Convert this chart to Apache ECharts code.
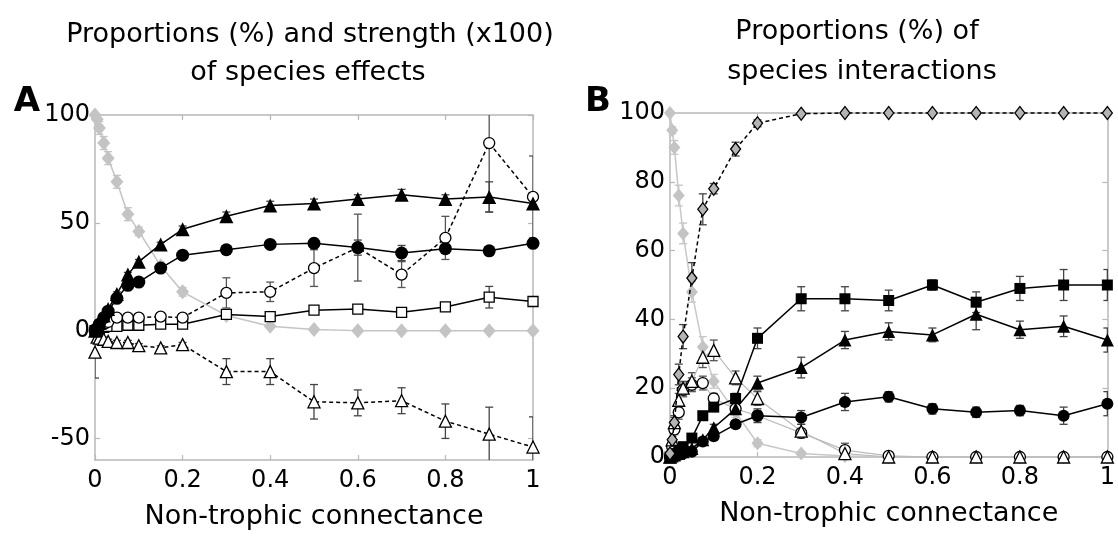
<!DOCTYPE html>
<html>
<head>
<meta charset="utf-8">
<script src="https://cdn.jsdelivr.net/npm/echarts@6/dist/echarts.min.js"></script>
<style>html,body{margin:0;padding:0;background:#fff;}#c{width:1118px;height:538px;}</style>
</head>
<body>
<div id="c"></div>
<script>
// ---------- data ----------
const X = [0, 0.005, 0.01, 0.02, 0.03, 0.05, 0.075, 0.1, 0.15, 0.2, 0.3, 0.4, 0.5, 0.6, 0.7, 0.8, 0.9, 1];
const xTicks = [0, 0.2, 0.4, 0.6, 0.8, 1];
const aYTicks = [-50, 0, 50, 100];
const bYTicks = [0, 20, 40, 60, 80, 100];

// Panel A: proportions and strength of species effects
const aGray        = [100, 98, 94, 87, 80, 69, 54, 46, 30, 18, 7, 2, 0.5, 0, 0, 0, 0, 0];
const aGrayErr     = [1, 2, 3, 3, 3, 3, 3, 2, 2, 2, 1, 1, 0, 0, 0, 0, 0, 0];
const aFillTri     = [0, 2, 4, 7, 10, 17, 26, 32, 40, 47, 53, 58, 59, 61, 63, 61, 62, 59];
const aFillTriErr  = [0, 0, 0, 0, 0, 1, 1, 1, 1, 1.5, 2, 2, 2, 2, 2.5, 2, 7, 2];
const aFillCirc    = [0, 1, 3, 6, 9, 15, 21, 22.5, 29, 35, 37.5, 40, 40.5, 38.5, 36, 38, 37, 40.5];
const aFillCircErr = [0, 0, 0, 0, 0, 1, 1, 1, 1.5, 1.5, 1.5, 1.5, 2, 3.5, 3.5, 2, 1.5, 1.5];
const aOpenCirc    = [0, 1, 2, 3, 4, 6, 6, 6, 6.5, 6, 17.5, 18, 29, 38.5, 26, 43, 87, 62];
const aOpenCircErr = [0, 0, 0, 0, 0, 1, 1, 1, 1, 1, 7, 4.5, 8.5, 15.5, 6, 10, 32, 19];
const aOpenSq      = [0, 0.5, 1, 1.5, 2, 2, 2.5, 2.5, 3, 3, 7.5, 6.5, 9.5, 10, 8.5, 11, 15.5, 13.5];
const aOpenSqErr   = [0, 0, 0, 0, 0, 0.5, 0.5, 0.5, 0.5, 0.5, 1, 1, 1, 1, 1, 1, 5, 1];
const aOpenTri     = [-10, -3, -3.5, -4, -5, -5.5, -5.5, -7, -8, -6.5, -19, -19, -33, -33.5, -32.5, -42, -48, -54];
const aOpenTriErr  = [12, 1, 1, 1, 1, 1, 1, 1, 1, 1, 6, 6, 8, 6, 6, 8, 12.5, 14];

// Panel B: proportions of species interactions
const bGray        = [100, 95, 90, 76, 65, 48, 32, 22, 13, 4, 1, 0.3, 0, 0, 0, 0, 0, 0];
const bGrayErr     = [0, 1, 2, 3, 3, 3, 3, 2, 1.5, 1, 0.5, 0, 0, 0, 0, 0, 0, 0];
const bDiam        = [1, 5, 10, 24, 35, 52, 72, 78, 89.5, 97, 99.8, 100, 100, 100, 100, 100, 100, 100];
const bDiamErr     = [0.5, 1, 2, 3, 3.5, 4.5, 4.5, 1.5, 2, 1, 0.2, 0, 0, 0, 0, 0, 0, 0];
const bSq          = [0, 0.5, 1, 2, 3, 5.5, 12, 14.5, 17, 34.5, 46, 46, 45.5, 50, 45, 49, 50, 50];
const bSqErr       = [0, 0, 0, 0.5, 0.5, 1, 1, 1, 1.5, 3, 3.5, 3.5, 3, 1.5, 3, 3.5, 4.5, 4.5];
const bTri         = [0, 0.3, 0.6, 1, 1.5, 2.5, 5, 8.5, 14, 21.5, 26, 34, 36.5, 35.5, 41.5, 37, 38, 34];
const bTriErr      = [0, 0, 0, 0, 0, 0.5, 0.5, 1, 1, 2, 3, 2.5, 2.5, 2, 4.5, 2.5, 3, 3.5];
const bCirc        = [0, 0.2, 0.4, 0.6, 1, 1.5, 4.5, 6, 9.5, 12, 11.5, 16, 17.5, 14, 13, 13.5, 12, 15.5];
const bCircErr     = [0, 0, 0, 0, 0, 0.5, 0.5, 1, 1, 2, 2, 2.5, 1.5, 1.5, 1.5, 1.5, 2.5, 3.5];
const bOpenCirc    = [0, 3, 8, 13, 19.5, 21, 21.5, 17, 14, 12, 7, 2, 0.3, 0, 0, 0, 0, 0];
const bOpenCircErr = [0, 1, 1.5, 2, 2, 2, 2, 1.5, 1.5, 1.5, 1, 2, 0, 0, 0, 0, 0, 0];
const bOpenTri     = [0, 5, 10, 16.5, 20, 22, 29, 31, 23, 17, 7.5, 1, 0, 0, 0, 0, 0, 0];
const bOpenTriErr  = [0, 1, 1.5, 2, 2, 2.5, 3, 3, 2, 2, 2, 1, 0, 0, 0, 0, 0, 0];

const titleA = ['Proportions (%) and strength (x100)', 'of species effects'];
const titleB = ['Proportions (%) of', 'species interactions'];
const xName = 'Non-trophic connectance';

// ---------- build ----------
const FONT = 'DejaVu Sans';
const AXC = '#b8b8b8';
const chart = echarts.init(document.getElementById('c'), null, {renderer: 'canvas'});

function pts(v) { return X.map((x, i) => [x, v[i]]); }
function errPts(v, e) {
  const out = [];
  X.forEach((x, i) => { if (e[i] > 0) out.push([x, v[i] - e[i], v[i] + e[i]]); });
  return out;
}
const ranges = [[-60, 100], [0, 100]];

function errSeries(v, e, panel, color) {
  const yr = ranges[panel];
  return {
    type: 'custom', xAxisIndex: panel * 2, yAxisIndex: panel * 2, z: 2,
    silent: true, clip: true, animation: false,
    data: errPts(v, e),
    renderItem: function (params, api) {
      const x = api.value(0);
      const lo = Math.max(api.value(1), yr[0]);
      const hi = Math.min(api.value(2), yr[1]);
      const p1 = api.coord([x, hi]), p2 = api.coord([x, lo]);
      const w = 4;
      const st = {stroke: color, lineWidth: 1.3};
      const ch = [{type: 'line', shape: {x1: p1[0], y1: p1[1], x2: p2[0], y2: p2[1]}, style: st}];
      if (api.value(2) <= yr[1]) ch.push({type: 'line', shape: {x1: p1[0] - w, y1: p1[1], x2: p1[0] + w, y2: p1[1]}, style: st});
      if (api.value(1) >= yr[0]) ch.push({type: 'line', shape: {x1: p2[0] - w, y1: p2[1], x2: p2[0] + w, y2: p2[1]}, style: st});
      return {type: 'group', children: ch};
    }
  };
}

function lineSeries(v, panel, o) {
  return {
    type: 'line', xAxisIndex: panel * 2, yAxisIndex: panel * 2, z: o.z || 3,
    data: pts(v), animation: false, silent: true, clip: false,
    symbol: o.symbol, symbolSize: o.size, showSymbol: true, showAllSymbol: true,
    lineStyle: {color: o.lineColor, width: o.lineWidth || 1.5, type: o.dash ? [4, 3] : 'solid'},
    itemStyle: {color: o.fill, borderColor: o.border || o.fill, borderWidth: o.border ? 1.3 : 0, opacity: 1}
  };
}

const series = [
  // Panel A
  errSeries(aGray, aGrayErr, 0, '#c4c4c4'),
  lineSeries(aGray, 0, {symbol: 'diamond', size: [13, 15], fill: '#c4c4c4', lineColor: '#c4c4c4', z: 2}),
  errSeries(aOpenTri, aOpenTriErr, 0, '#444'),
  lineSeries(aOpenTri, 0, {symbol: 'triangle', size: 12, fill: '#fff', border: '#000', lineColor: '#000', dash: true}),
  errSeries(aOpenSq, aOpenSqErr, 0, '#444'),
  lineSeries(aOpenSq, 0, {symbol: 'rect', size: 10, fill: '#fff', border: '#000', lineColor: '#000'}),
  errSeries(aOpenCirc, aOpenCircErr, 0, '#555'),
  lineSeries(aOpenCirc, 0, {symbol: 'circle', size: 11, fill: '#fff', border: '#000', lineColor: '#000', dash: true}),
  errSeries(aFillCirc, aFillCircErr, 0, '#444'),
  lineSeries(aFillCirc, 0, {symbol: 'circle', size: 13, fill: '#000', lineColor: '#000'}),
  errSeries(aFillTri, aFillTriErr, 0, '#444'),
  lineSeries(aFillTri, 0, {symbol: 'triangle', size: 14, fill: '#000', lineColor: '#000'}),
  // Panel B
  errSeries(bGray, bGrayErr, 1, '#c4c4c4'),
  lineSeries(bGray, 1, {symbol: 'diamond', size: [12, 14], fill: '#c4c4c4', lineColor: '#c8c8c8', z: 2}),
  errSeries(bOpenCirc, bOpenCircErr, 1, '#555'),
  lineSeries(bOpenCirc, 1, {symbol: 'circle', size: 11, fill: '#fff', border: '#000', lineColor: '#bbb', lineWidth: 1.2}),
  errSeries(bOpenTri, bOpenTriErr, 1, '#555'),
  lineSeries(bOpenTri, 1, {symbol: 'triangle', size: 12, fill: '#fff', border: '#000', lineColor: '#bbb', lineWidth: 1.2}),
  errSeries(bCirc, bCircErr, 1, '#444'),
  lineSeries(bCirc, 1, {symbol: 'circle', size: 12, fill: '#000', lineColor: '#000'}),
  errSeries(bTri, bTriErr, 1, '#444'),
  lineSeries(bTri, 1, {symbol: 'triangle', size: 13, fill: '#000', lineColor: '#000'}),
  errSeries(bSq, bSqErr, 1, '#444'),
  lineSeries(bSq, 1, {symbol: 'rect', size: 11, fill: '#000', lineColor: '#000'}),
  errSeries(bDiam, bDiamErr, 1, '#444'),
  lineSeries(bDiam, 1, {symbol: 'diamond', size: [10, 13], fill: '#b4b4b4', border: '#000', lineColor: '#000', dash: true, z: 4})
];

function xAx(grid, pos, labels) {
  return {
    type: 'value', gridIndex: grid, position: pos, min: 0, max: 1, interval: 0.2,
    axisLine: {show: true, onZero: false, lineStyle: {color: AXC, width: 1.5}},
    axisTick: {show: true, inside: true, length: 5, lineStyle: {color: AXC, width: 1.2}},
    axisLabel: {show: labels, color: '#000', fontFamily: FONT, fontSize: 24, margin: 9,
                formatter: v => String(+v.toFixed(1))},
    splitLine: {show: false},
    name: labels ? xName : '', nameLocation: 'middle', nameGap: 43,
    nameTextStyle: {color: '#000', fontFamily: FONT, fontSize: 27}
  };
}
function yAx(grid, pos, labels, rng, ticks) {
  return {
    type: 'value', gridIndex: grid, position: pos, min: rng[0], max: rng[1],
    axisLine: {show: true, onZero: false, lineStyle: {color: AXC, width: 1.5}},
    axisTick: {show: true, inside: true, length: 5, customValues: ticks, lineStyle: {color: AXC, width: 1.2}},
    axisLabel: {show: labels, customValues: ticks, color: '#000', fontFamily: FONT, fontSize: 24, margin: 5},
    splitLine: {show: false}
  };
}

const option = {
  animation: false,
  backgroundColor: '#fff',
  grid: [
    {left: 95, top: 115, width: 438, height: 345},
    {left: 670, top: 113, width: 438, height: 344}
  ],
  xAxis: [xAx(0, 'bottom', true), xAx(0, 'top', false), xAx(1, 'bottom', true), xAx(1, 'top', false)],
  yAxis: [
    yAx(0, 'left', true, ranges[0], aYTicks), yAx(0, 'right', false, ranges[0], aYTicks),
    yAx(1, 'left', true, ranges[1], bYTicks), yAx(1, 'right', false, ranges[1], bYTicks)
  ],
  series: series,
  graphic: [
    {type: 'text', x: 310, y: 35, style: {text: titleA[0], font: '27px "DejaVu Sans"', fill: '#000', align: 'center', verticalAlign: 'middle'}},
    {type: 'text', x: 308, y: 73, style: {text: titleA[1], font: '27px "DejaVu Sans"', fill: '#000', align: 'center', verticalAlign: 'middle'}},
    {type: 'text', x: 857, y: 32, style: {text: titleB[0], font: '27px "DejaVu Sans"', fill: '#000', align: 'center', verticalAlign: 'middle'}},
    {type: 'text', x: 862, y: 72, style: {text: titleB[1], font: '27px "DejaVu Sans"', fill: '#000', align: 'center', verticalAlign: 'middle'}},
    {type: 'text', x: 27, y: 102, style: {text: 'A', font: 'bold 34px "DejaVu Sans"', fill: '#000', align: 'center', verticalAlign: 'middle'}},
    {type: 'text', x: 598, y: 102, style: {text: 'B', font: 'bold 34px "DejaVu Sans"', fill: '#000', align: 'center', verticalAlign: 'middle'}}
  ]
};
chart.setOption(option);
</script>
</body>
</html>
